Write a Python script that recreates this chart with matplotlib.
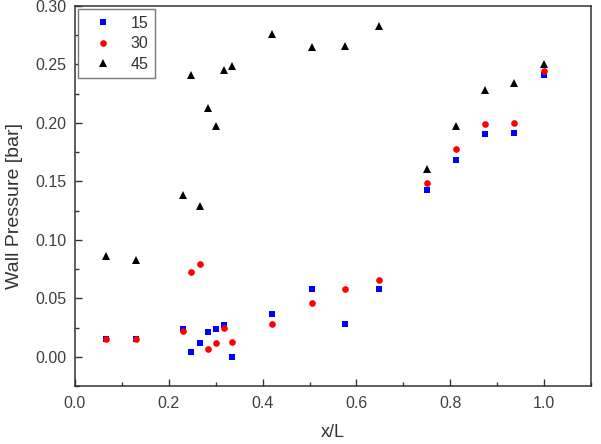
import matplotlib
matplotlib.use("Agg")
import matplotlib.pyplot as plt
from matplotlib.ticker import MultipleLocator

plt.rcParams['font.family'] = ['Liberation Sans', 'DejaVu Sans']

x_pos = [0.067, 0.129, 0.231, 0.248, 0.266, 0.283, 0.300, 0.318, 0.335,
         0.420, 0.506, 0.576, 0.647, 0.750, 0.812, 0.873, 0.935, 1.000]

p15 = [0.015, 0.015, 0.0237, 0.0043, 0.0114, 0.0208, 0.0237, 0.0274, -0.0006,
       0.0369, 0.0577, 0.028, 0.0583, 0.1424, 0.1686, 0.1904, 0.1912, 0.2407]
p30 = [0.0154, 0.0148, 0.0217, 0.0723, 0.0792, 0.0065, 0.0117, 0.0243, 0.0125,
       0.0277, 0.0457, 0.0583, 0.0657, 0.1486, 0.1778, 0.1995, 0.1998, 0.2447]
p45 = [0.086, 0.083, 0.138, 0.241, 0.129, 0.213, 0.197, 0.245, 0.249,
       0.276, 0.265, 0.266, 0.283, 0.161, 0.197, 0.228, 0.234, 0.250]

series_labels = ['15', '30', '45']
x_ticks = [0.0, 0.2, 0.4, 0.6, 0.8, 1.0]
y_ticks = [0.00, 0.05, 0.10, 0.15, 0.20, 0.25, 0.30]

fig = plt.figure(figsize=(6.01, 4.44), dpi=100)
ax = fig.add_axes([75/601, 1-386/444, 516/601, 380/444])

ax.plot(x_pos, p15, linestyle='none', marker='s', color='#0000ff', ms=4.6, mew=0, label=series_labels[0])
ax.plot(x_pos, p30, linestyle='none', marker='o', color='#ff0000', ms=4.8, mew=0, label=series_labels[1])
ax.plot(x_pos, p45, linestyle='none', marker='^', color='black', ms=6.3, mew=0, label=series_labels[2])

ax.set_xlim(0.0, 1.1)
ax.set_ylim(-0.025, 0.30)
ax.set_xticks(x_ticks)
ax.set_yticks(y_ticks)
ax.set_xticklabels([f'{v:.1f}' for v in x_ticks])
ax.set_yticklabels([f'{v:.2f}' for v in y_ticks])
ax.xaxis.set_minor_locator(MultipleLocator(0.1))
ax.yaxis.set_minor_locator(MultipleLocator(0.025))

ax.tick_params(which='both', direction='in', top=False, right=False, width=1.0, color='#333333',
               labelsize=11.5, labelcolor='#404040')
ax.tick_params(which='major', length=5)
ax.tick_params(which='minor', length=3)
ax.tick_params(axis='y', pad=6)
ax.tick_params(axis='x', pad=7)

for s in ax.spines.values():
    s.set_color('#333333')
    s.set_linewidth(1.1)

ax.set_xlabel('x/L', fontsize=13, color='#333333')
ax.set_ylabel('Wall Pressure [bar]', fontsize=14, color='#333333')
ax.xaxis.set_label_coords(0.5, -0.10)
ax.yaxis.set_label_coords(-0.10, 0.474)

leg = ax.legend(loc='upper left', bbox_to_anchor=(0.0, 1.0), borderaxespad=0.2, fontsize=11.5,
                numpoints=1, handlelength=2.3, handletextpad=0.6, labelspacing=0.35,
                borderpad=0.4, fancybox=False, framealpha=1, edgecolor='#777777')
leg.get_frame().set_linewidth(1.0)
for t in leg.get_texts():
    t.set_color('#333333')

fig.savefig('out.png', dpi=100)
